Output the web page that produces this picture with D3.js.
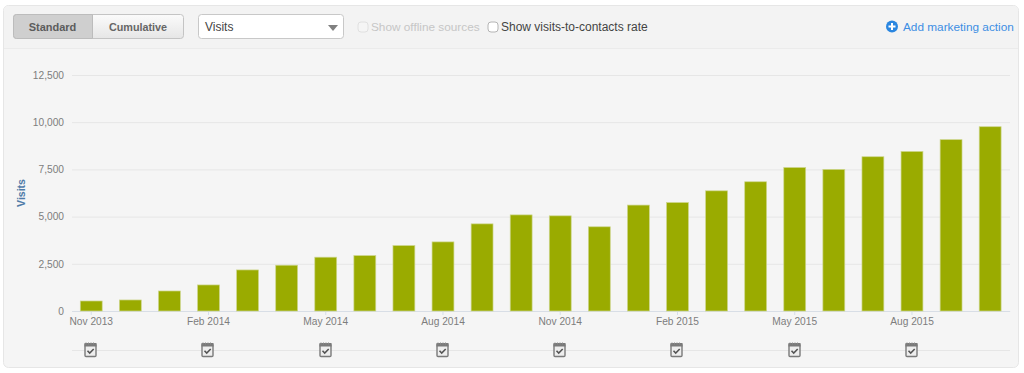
<!DOCTYPE html>
<html>
<head>
<meta charset="utf-8">
<script src="https://cdn.jsdelivr.net/npm/d3@7"></script>
<style>
  html, body { margin: 0; padding: 0; background: #fff; }
  svg { display: block; font-family: "Liberation Sans", Arial, sans-serif; }
  .tick text { fill: #7d7d7d; font-size: 10.2px; }
  .ui { font-size: 12px; fill: #444; }
</style>
</head>
<body>
<div id="chart"></div>
<script>
// Chart values
const months = ["Nov 2013", "Dec 2013", "Jan 2014", "Feb 2014", "Mar 2014", "Apr 2014", "May 2014", "Jun 2014",
    "Jul 2014", "Aug 2014", "Sep 2014", "Oct 2014", "Nov 2014", "Dec 2014", "Jan 2015", "Feb 2015",
    "Mar 2015", "Apr 2015", "May 2015", "Jun 2015", "Jul 2015", "Aug 2015", "Sep 2015", "Oct 2015"];
const visits = [530, 584, 1060, 1380, 2175, 2425, 2850, 2935, 3465, 3660, 4615, 5090,
    5040, 4460, 5610, 5745, 6365, 6845, 7600, 7500, 8170, 8450, 9075, 9760];
const yTicks = [0, 2500, 5000, 7500, 10000, 12500];
const xTickLabels = ["Nov 2013", "Feb 2014", "May 2014", "Aug 2014", "Nov 2014", "Feb 2015", "May 2015", "Aug 2015"];

const width = 1024, height = 373,
    margin = ({ top: 75, right: 14, bottom: 62, left: 72 });

const svg = d3.select("#chart")
    .append("svg")
    .attr("width", width)
    .attr("height", height)
    .attr("viewBox", [0, 0, width, height]);

// Outer panel and toolbar
svg.append("rect")
    .attr("x", 3.5).attr("y", 5.5)
    .attr("width", 1015).attr("height", 362).attr("rx", 5)
    .attr("fill", "#f5f5f5").attr("stroke", "#e6e6e6");
svg.append("path")
    .attr("d", "M4,48V10a4,4 0 0 1 4,-4H1014a4,4 0 0 1 4,4V48Z")
    .attr("fill", "#f3f3f3");
svg.append("line")
    .attr("x1", 4).attr("x2", 1018).attr("y1", 48.5).attr("y2", 48.5)
    .attr("stroke", "#ebebeb");

const defs = svg.append("defs");
const btnGrad = defs.append("linearGradient").attr("id", "btn").attr("x2", 0).attr("y2", 1);
btnGrad.append("stop").attr("offset", 0).attr("stop-color", "#fbfbfb");
btnGrad.append("stop").attr("offset", 1).attr("stop-color", "#e6e6e6");

// Standard / Cumulative toggle
svg.append("rect").attr("x", 13.5).attr("y", 14.5).attr("width", 170).attr("height", 24).attr("rx", 3)
    .attr("fill", "url(#btn)").attr("stroke", "#c4c4c4");
svg.append("path").attr("d", "M92.5,14.5H16.5a3,3 0 0 0 -3,3V35.5a3,3 0 0 0 3,3H92.5Z")
    .attr("fill", "#cfcfcf").attr("stroke", "#bcbcbc");
svg.append("text").attr("class", "ui").attr("x", 52.5).attr("y", 30.5).attr("text-anchor", "middle")
    .attr("font-weight", "bold").style("font-size", "11px").style("fill", "#5c5c5c").text("Standard");
svg.append("text").attr("class", "ui").attr("x", 138).attr("y", 30.5).attr("text-anchor", "middle")
    .attr("font-weight", "bold").style("font-size", "10.8px").style("fill", "#666").text("Cumulative");

// Dropdown
svg.append("rect").attr("x", 198.5).attr("y", 14.5).attr("width", 145).attr("height", 24).attr("rx", 3)
    .attr("fill", "#fff").attr("stroke", "#c8c8c8");
svg.append("text").attr("class", "ui").attr("x", 205).attr("y", 31).style("fill", "#444").text("Visits");
svg.append("path").attr("d", "M328,25h10l-5,6Z").attr("fill", "#808080");

// Checkboxes
svg.append("rect").attr("x", 358).attr("y", 22).attr("width", 10).attr("height", 10).attr("rx", 3)
    .attr("fill", "#f5f5f5").attr("stroke", "#e0e0e0");
svg.append("text").attr("class", "ui").attr("x", 371).attr("y", 30.5).style("fill", "#c6c6c6").style("font-size", "11.8px").text("Show offline sources");
svg.append("rect").attr("x", 488).attr("y", 22).attr("width", 10).attr("height", 10).attr("rx", 3)
    .attr("fill", "#fff").attr("stroke", "#b4b4b4");
svg.append("text").attr("class", "ui").attr("x", 501).attr("y", 30.5).style("fill", "#444").text("Show visits-to-contacts rate");

// Add marketing action link
svg.append("circle").attr("cx", 892).attr("cy", 26.5).attr("r", 6).attr("fill", "#2a86e0");
svg.append("path").attr("d", "M888.5,26.5h7M892,23v7").attr("stroke", "#fff").attr("stroke-width", 2);
svg.append("text").attr("class", "ui").attr("x", 903).attr("y", 30.5).style("fill", "#3d8ee3").style("font-size", "11.8px").text("Add marketing action");

// Scales
const x = d3.scaleBand()
    .domain(months)
    .range([margin.left - 0.3, width - margin.right - 0.3])
    .paddingInner(0.44)
    .paddingOuter(0.22);

const y = d3.scaleLinear()
    .domain([0, 12500])
    .range([height - margin.bottom, margin.top]);

// Y axis with gridlines
svg.append("g")
    .attr("class", "y-axis")
    .attr("transform", `translate(${margin.left},0)`)
    .call(d3.axisLeft(y).tickValues(yTicks).tickFormat(d3.format(",")).tickSize(-(width - margin.left - margin.right)).tickPadding(8))
    .call(g => g.select(".domain").remove())
    .call(g => g.selectAll(".tick line").attr("stroke", "#e6e6e6"));

// X axis
svg.append("g")
    .attr("class", "x-axis")
    .attr("transform", `translate(0,${height - margin.bottom})`)
    .call(d3.axisBottom(x).tickValues(xTickLabels).tickSize(4).tickSizeOuter(0).tickPadding(3))
    .call(g => g.select(".domain").attr("stroke", "#d8dee6"))
    .call(g => g.selectAll(".tick line").attr("stroke", "#d5deea"));

// Axis label
svg.append("text")
    .attr("transform", `translate(25,193) rotate(-90)`)
    .attr("text-anchor", "middle")
    .attr("font-size", 10.5)
    .attr("font-weight", "bold")
    .attr("fill", "#4f7ba8")
    .text("Visits");

// Bars, with the pale edge they have in the original
svg.append("g")
    .selectAll("rect")
    .data(visits)
    .join("rect")
    .attr("x", (d, i) => x(months[i]))
    .attr("y", d => y(d))
    .attr("width", x.bandwidth())
    .attr("height", d => y(0) - y(d))
    .attr("fill", "#9aab00")
    .attr("stroke", "#cdd68c")
    .attr("stroke-width", 0.7);

// Marketing action lane with calendar icons
const laneY = 350;
svg.append("line")
    .attr("x1", margin.left).attr("x2", width - margin.right)
    .attr("y1", laneY + 0.5).attr("y2", laneY + 0.5)
    .attr("stroke", "#e6e6e6");

const icons = svg.append("g")
    .selectAll("g")
    .data(xTickLabels)
    .join("g")
    .attr("transform", d => `translate(${Math.round(x(d) + x.bandwidth() / 2) - 7},${laneY - 8})`);
icons.append("rect").attr("x", 1).attr("y", 2).attr("width", 11).attr("height", 12.5).attr("rx", 1)
    .attr("fill", "#eeeeee").attr("stroke", "#7a7a7a").attr("stroke-width", 1.4);
icons.append("rect").attr("x", 0.5).attr("y", 1).attr("width", 12).attr("height", 3.5).attr("fill", "#7a7a7a");
icons.append("path").attr("d", "M2,0.5v2M4.5,0.5v2M7,0.5v2M9.5,0.5v2").attr("stroke", "#8a8a8a").attr("stroke-width", 1);
icons.append("path").attr("d", "M3.5,8.8l2.2,2.2l4,-4").attr("fill", "none").attr("stroke", "#555").attr("stroke-width", 1.6);
</script>
</body>
</html>
